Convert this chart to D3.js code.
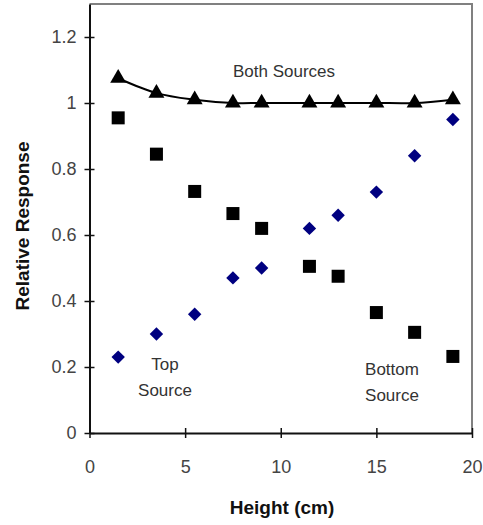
<!DOCTYPE html>
<html>
<head>
<meta charset="utf-8">
<script src="https://cdn.jsdelivr.net/npm/d3@7"></script>
<style>
  body { margin: 0; background: #fff; }
  svg { display: block; font-family: Arial, "Liberation Sans", sans-serif; }
</style>
</head>
<body>
<svg class="chart"></svg>
<script>
// heights where readings were taken (cm)
const heights = [1.5, 3.5, 5.5, 7.5, 9, 11.5, 13, 15, 17, 19];
// relative response for each source setup
const bothSources = [1.075, 1.03, 1.01, 1.0, 1.0, 1.0, 1.0, 1.0, 1.0, 1.01];
const bottomSource = [0.955, 0.845, 0.732, 0.665, 0.62, 0.505, 0.475, 0.365, 0.305, 0.232];
const topSource = [0.23, 0.30, 0.36, 0.47, 0.50, 0.62, 0.66, 0.73, 0.84, 0.95];
const xTicks = [0, 5, 10, 15, 20];
const yTicks = [0, 0.2, 0.4, 0.6, 0.8, 1, 1.2];

const width = 483, height = 525;
const margin = { top: 4, right: 11, bottom: 92, left: 89.5 };
const innerW = width - margin.left - margin.right;
const innerH = height - margin.top - margin.bottom;

const svg = d3.select(".chart")
    .attr("width", width)
    .attr("height", height);

svg.append("rect")
    .attr("width", width)
    .attr("height", height)
    .attr("fill", "#fff");

const x = d3.scaleLinear().domain([0, 20]).range([0, innerW]);
const y = d3.scaleLinear().domain([0, 1.3]).range([innerH, 0]);

const g = svg.append("g")
    .attr("transform", `translate(${margin.left},${margin.top})`);

// plot frame (top + right in grey)
g.append("path")
    .attr("d", `M0,0H${innerW}V${innerH}`)
    .attr("fill", "none")
    .attr("stroke", "#808080")
    .attr("stroke-width", 2);

// axes
const xAxis = g.append("g")
    .attr("transform", `translate(0,${innerH})`)
    .call(d3.axisBottom(x).tickValues(xTicks).tickSizeInner(5).tickSizeOuter(0).tickPadding(22));
xAxis.selectAll(".tick line").attr("y1", -5);

const yAxis = g.append("g")
    .call(d3.axisLeft(y).tickValues(yTicks).tickFormat(d3.format("~g")).tickSizeInner(5).tickSizeOuter(0).tickPadding(8));
yAxis.selectAll(".tick line").attr("x1", 5);

g.selectAll(".domain").attr("stroke", "#111").attr("stroke-width", 2);
g.selectAll(".tick line").attr("stroke", "#111").attr("stroke-width", 1.5);
g.selectAll(".tick text")
    .attr("fill", "#444")
    .style("font-size", "18px")
    .style("font-family", "Arial, 'Liberation Sans', sans-serif");

// both sources: smoothed line + triangles
const line = d3.line()
    .x((d, i) => x(heights[i]))
    .y(d => y(d))
    .curve(d3.curveCatmullRom.alpha(0.5));

g.append("path")
    .datum(bothSources)
    .attr("d", line)
    .attr("fill", "none")
    .attr("stroke", "#000")
    .attr("stroke-width", 2);

const tri = d3.symbol().type(d3.symbolTriangle).size(110);
g.selectAll("path.both")
    .data(bothSources)
    .join("path")
    .attr("class", "both")
    .attr("transform", (d, i) => `translate(${x(heights[i])},${y(d)})`)
    .attr("d", tri)
    .attr("fill", "#000");

// bottom source squares
g.selectAll("rect.bottom")
    .data(bottomSource)
    .join("rect")
    .attr("class", "bottom")
    .attr("x", (d, i) => x(heights[i]) - 6.5)
    .attr("y", d => y(d) - 6.5)
    .attr("width", 13)
    .attr("height", 13)
    .attr("fill", "#000");

// top source diamonds
const diamond = d3.symbol().type(d3.symbolDiamond2).size(115);
g.selectAll("path.top")
    .data(topSource)
    .join("path")
    .attr("class", "top")
    .attr("transform", (d, i) => `translate(${x(heights[i])},${y(d)})`)
    .attr("d", diamond)
    .attr("fill", "#000080");

// series labels
const labels = [
    { lines: ["Both Sources"], cx: 284, y: 77 },
    { lines: ["Top", "Source"], cx: 165, y: 370 },
    { lines: ["Bottom", "Source"], cx: 392, y: 375 }
];
labels.forEach(l => {
    const t = svg.append("text")
        .attr("text-anchor", "middle")
        .attr("fill", "#333")
        .style("font-size", "17px");
    l.lines.forEach((s, i) => {
        t.append("tspan").attr("x", l.cx).attr("y", l.y + i * 26).text(s);
    });
});

// axis titles
svg.append("text")
    .attr("x", 282)
    .attr("y", 514)
    .attr("text-anchor", "middle")
    .style("font-size", "19px")
    .style("font-weight", "bold")
    .attr("fill", "#111")
    .text("Height (cm)");

svg.append("text")
    .attr("transform", "translate(29,226) rotate(-90)")
    .attr("text-anchor", "middle")
    .style("font-size", "19px")
    .style("font-weight", "bold")
    .attr("fill", "#111")
    .text("Relative Response");
</script>
</body>
</html>
